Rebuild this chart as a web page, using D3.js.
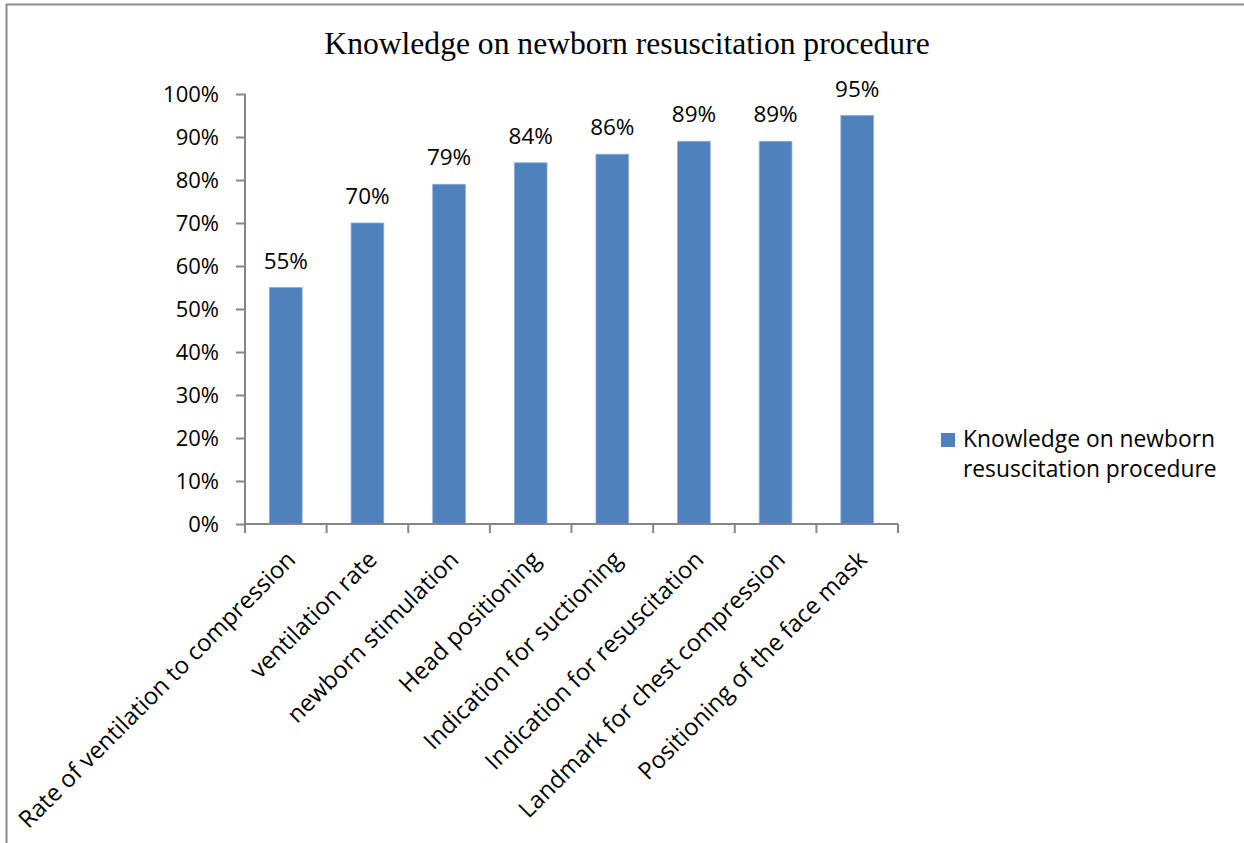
<!DOCTYPE html>
<html>
<head>
<meta charset="utf-8">
<script src="https://cdn.jsdelivr.net/npm/d3@7"></script>
<style>
  html, body { margin: 0; padding: 0; background: #ffffff; overflow: hidden; }
  svg { display: block; }
  text { font-family: "Open Sans", "Liberation Sans", sans-serif; fill: #000; }
</style>
</head>
<body>
<svg id="chart" width="1244" height="843"></svg>
<script>
// Share of respondents answering each item correctly
const categories = [
  "Rate of ventilation to compression",
  "ventilation rate",
  "newborn stimulation",
  "Head positioning",
  "Indication for suctioning",
  "Indication for resuscitation",
  "Landmark for chest compression",
  "Positioning of the face mask"
];
const values = [55, 70, 79, 84, 86, 89, 89, 95];
const yTicks = [0, 10, 20, 30, 40, 50, 60, 70, 80, 90, 100];
const chartTitle = "Knowledge on newborn resuscitation procedure";
const seriesName = ["Knowledge on newborn", "resuscitation procedure"];

const svg = d3.select("#chart");
const W = 1244, H = 843;
const plot = { left: 245, right: 898, top: 94, bottom: 524 };
const barColor = "#4F81BD";
const axisColor = "#868686";

// outer chart frame (runs past the right and bottom edges)
svg.append("rect")
  .attr("x", 6.5).attr("y", 4.5)
  .attr("width", W + 40).attr("height", H + 40)
  .attr("fill", "#fff")
  .attr("stroke", "#8c8c8c")
  .attr("stroke-width", 2);

const x = d3.scaleBand()
  .domain(categories)
  .range([plot.left, plot.right])
  .paddingInner(0.6)
  .paddingOuter(0.3);

const y = d3.scaleLinear()
  .domain([0, 100])
  .range([plot.bottom, plot.top]);

// title
svg.append("text")
  .attr("x", 627).attr("y", 54)
  .attr("text-anchor", "middle")
  .style("font-family", "'Liberation Serif', 'Times New Roman', serif")
  .style("font-size", "31.6px")
  .text(chartTitle);

// y axis
const yAxis = d3.axisLeft(y)
  .tickValues(yTicks)
  .tickFormat(d => d + "%")
  .tickSize(9)
  .tickPadding(17);
const gy = svg.append("g")
  .attr("transform", `translate(${plot.left},0)`)
  .call(yAxis);
gy.select(".domain").attr("stroke", axisColor).attr("stroke-width", 2)
  .attr("d", `M0,${plot.bottom}V${plot.top}`);
gy.selectAll(".tick line").attr("stroke", axisColor).attr("stroke-width", 2);
gy.selectAll(".tick text")
  .style("font-family", "'Open Sans', sans-serif")
  .style("font-size", "22px")
  .attr("fill", "#000")
  .attr("dy", "0.36em");

// bars
svg.append("g").selectAll("rect")
  .data(values)
  .join("rect")
  .attr("x", (d, i) => x(categories[i]))
  .attr("y", d => y(d))
  .attr("width", x.bandwidth())
  .attr("height", d => y(0) - y(d))
  .attr("fill", barColor)
  .attr("stroke", "#8eaad6")
  .attr("stroke-width", 0.8);

// value labels
svg.append("g").selectAll("text")
  .data(values)
  .join("text")
  .attr("x", (d, i) => x(categories[i]) + x.bandwidth() / 2)
  .attr("y", d => y(d) - 19)
  .attr("text-anchor", "middle")
  .style("font-size", "22.5px")
  .text(d => d + "%");

// x axis line and category separators
const step = x.step();
const gx = svg.append("g");
gx.append("line")
  .attr("x1", plot.left).attr("x2", plot.right)
  .attr("y1", plot.bottom).attr("y2", plot.bottom)
  .attr("stroke", axisColor).attr("stroke-width", 2);
const boundaries = d3.range(categories.length + 1).map(i => plot.left + i * step);
gx.selectAll("line.sep")
  .data(boundaries)
  .join("line")
  .attr("class", "sep")
  .attr("x1", d => d).attr("x2", d => d)
  .attr("y1", plot.bottom).attr("y2", plot.bottom + 9)
  .attr("stroke", axisColor).attr("stroke-width", 2);

// rotated category labels
gx.selectAll("text")
  .data(categories)
  .join("text")
  .attr("transform", d => `translate(${x(d) + x.bandwidth() / 2 + 2},552) rotate(-45)`)
  .attr("text-anchor", "end")
  .attr("dy", "0.54em")
  .style("font-size", "23.8px")
  .text(d => d);

// legend
const lg = svg.append("g");
lg.append("rect")
  .attr("x", 941).attr("y", 433)
  .attr("width", 14).attr("height", 14)
  .attr("fill", barColor);
lg.selectAll("text")
  .data(seriesName)
  .join("text")
  .attr("x", 963)
  .attr("y", (d, i) => 447 + i * 30)
  .style("font-size", "22.8px")
  .text(d => d);
</script>
</body>
</html>
